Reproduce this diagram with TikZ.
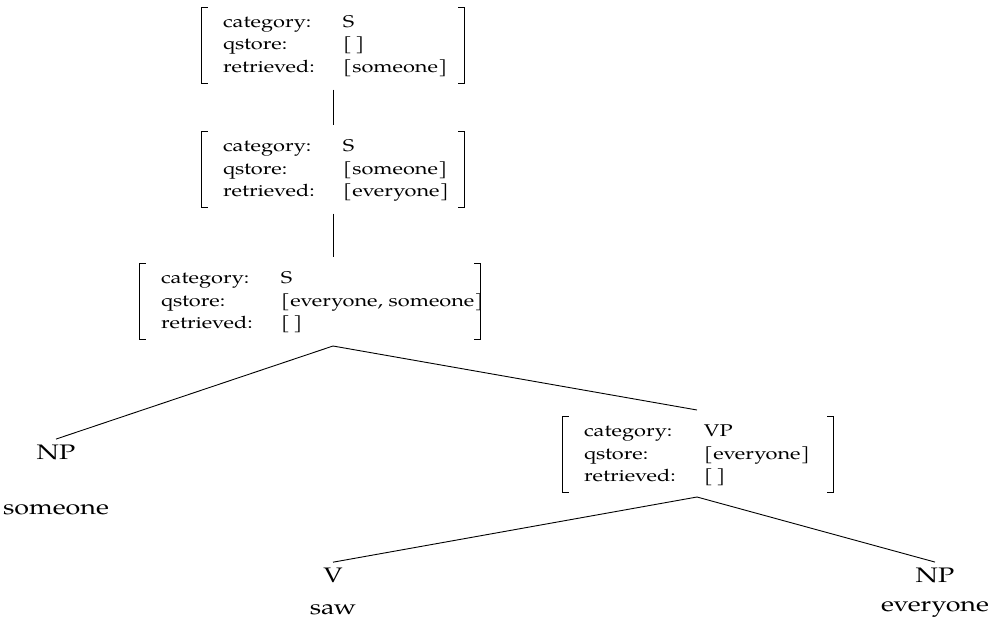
\documentclass[tikz,border=0pt]{standalone}
\usepackage{fontspec}
\setmainfont{TeX Gyre Pagella}[FakeStretch=1.28]
\usepackage{tikz}

\newcommand{\avmfont}{\fontsize{17}{22.5}\selectfont}
\newcommand{\wordfont}{\fontsize{21}{25}\selectfont}
\newcommand{\avmrows}[3]{\begin{tabular}{@{}p{120pt}@{}l@{}}category: & #1\\ qstore: & #2\\ retrieved: & #3\end{tabular}}

\begin{document}
\begin{tikzpicture}[x=1pt,y=-1pt,line width=0.9pt,node distance=35pt]
  \tikzstyle{avm}=[inner xsep=21pt,inner ysep=4pt,align=left,font=\avmfont]
  \tikzstyle{word}=[inner sep=5pt,font=\wordfont]
  \tikzstyle{conn}=[shorten <=6pt,shorten >=6pt]
  \tikzstyle{bracket}=[line width=1.2pt]

  \useasboundingbox (0,0) rectangle (990,623);

  \node[avm,text width=220pt] (S1) at (333,45.5) {\avmrows{S}{[\,]}{[someone]}};
  \node[avm,text width=220pt] (S2) at (333,169.5) {\avmrows{S}{[someone]}{[everyone]}};
  \node[avm,text width=298pt] (S3) at (310,301.5) {\avmrows{S}{[everyone, someone]}{[\,]}};
  \node[avm,text width=228pt] (VP) at (698,454.5) {\avmrows{VP}{[everyone]}{[\,]}};

  \node[word]          (NP1) at (56,452) {NP};
  \node[word]          (W1) [below of=NP1, node distance=58pt] {someone};
  \node[word]          (V) at (333,575) {V};
  \node[word]          (W2) [below of=V] {saw};
  \node[word]          (NP2) at (935,575) {NP};
  \node[word]          (W3) [below of=NP2] {everyone};

  \coordinate (SA) at (333,346);
  \coordinate (VT) at (697,410);
  \coordinate (VA) at (697,497);

  % brackets round the feature structures
  \foreach \n in {S1,S2,S3,VP} {
    \draw[bracket] ([xshift=6pt]\n.north west) -- (\n.north west) -- (\n.south west) -- ([xshift=6pt]\n.south west);
    \draw[bracket] ([xshift=-6pt]\n.north east) -- (\n.north east) -- (\n.south east) -- ([xshift=-6pt]\n.south east);
  }

  \path (S1) edge[conn] (S2)
        (S2.south) edge[conn] (S2.south |- S3.north)
        (SA) edge (NP1.north)
             edge (VT)
        (VA) edge (V.north)
             edge (NP2.north);
\end{tikzpicture}
\end{document}
